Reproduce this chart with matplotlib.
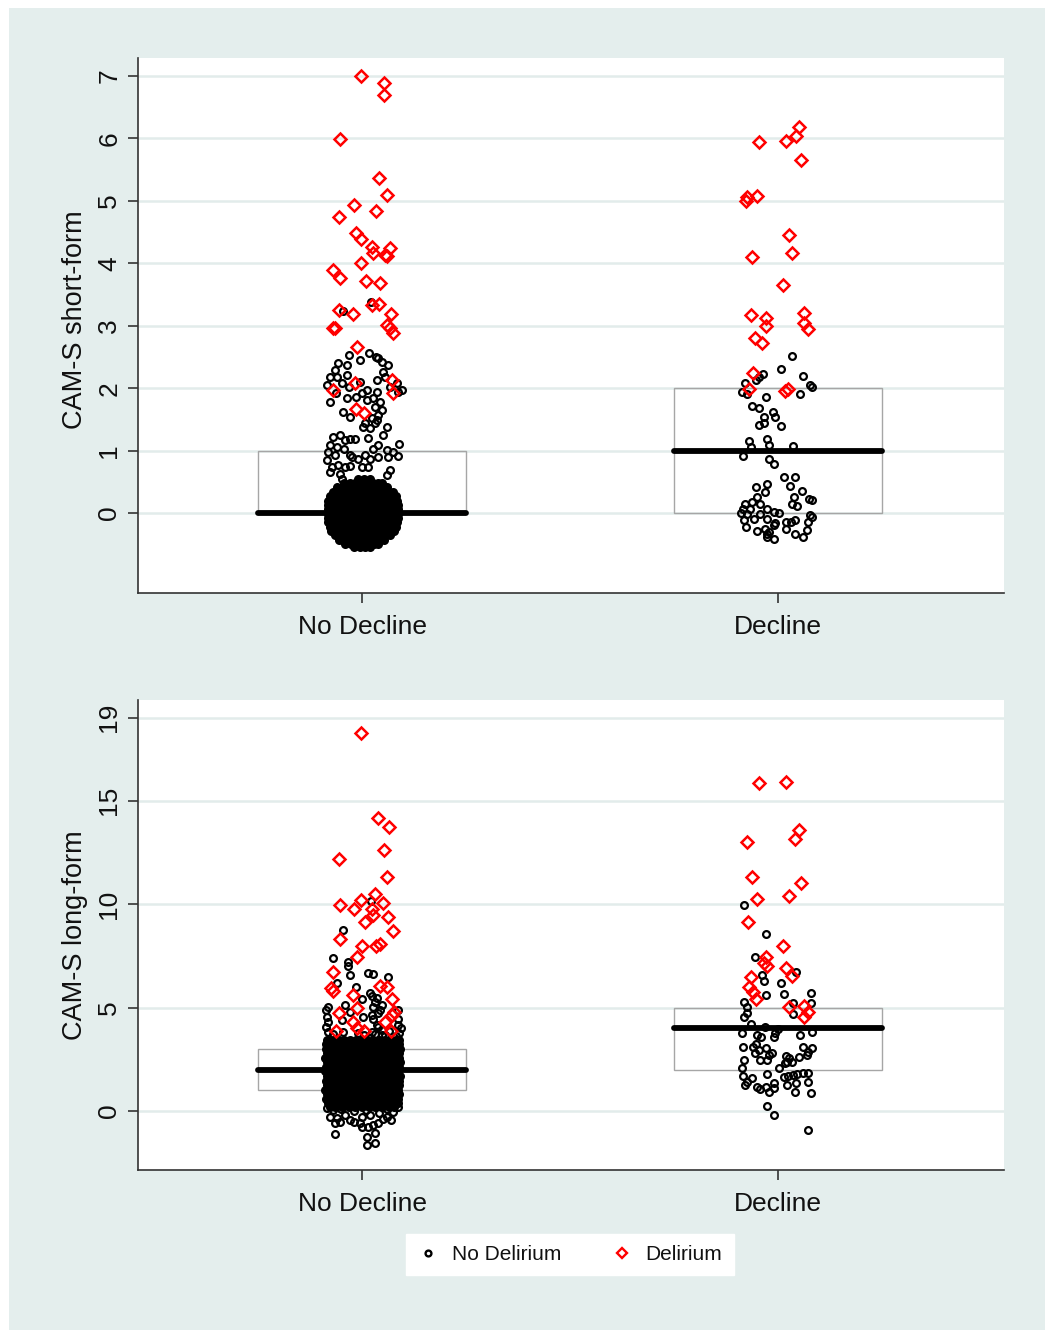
import matplotlib
matplotlib.use("Agg")
import matplotlib.pyplot as plt
from matplotlib.lines import Line2D
from matplotlib.patches import Rectangle

plt.rcParams['font.family'] = ['Liberation Sans', 'DejaVu Sans']

# ---------------- data ----------------
categories = ['No Decline', 'Decline']
cat_pos = [1, 2]

short_ticks = [0, 1, 2, 3, 4, 5, 6, 7]
long_ticks = [0, 5, 10, 15, 19]

# box statistics (q1, median, q3) per category
short_q1 = [0, 0]
short_med = [0, 1]
short_q3 = [1, 2]
long_q1 = [1, 2]
long_med = [2, 4]
long_q3 = [3, 5]

# ---- CAM-S short-form, No Decline ----
nd_short_del_dx = [-0.002, 0.052, 0.052, -0.053, 0.040, 0.061, -0.019, 0.033, -0.055, -0.014, -0.002, 0.023,
                   0.067, 0.027, 0.055, 0.061, -0.002, -0.069, -0.053, 0.009, 0.043, 0.025, 0.040, -0.055,
                   -0.021, 0.069, -0.069, -0.065, 0.059, 0.067, 0.075, -0.011, -0.070, -0.017, 0.071, 0.075,
                   -0.014, 0.005]
nd_short_del_y = [7.00, 6.88, 6.70, 5.99, 5.37, 5.10, 4.93, 4.83, 4.74, 4.49, 4.39, 4.26,
                  4.25, 4.16, 4.13, 4.11, 4.00, 3.90, 3.76, 3.72, 3.68, 3.33, 3.34, 3.25,
                  3.19, 3.19, 2.96, 2.97, 3.01, 2.96, 2.88, 2.66, 1.97, 2.09, 2.13, 1.92,
                  1.66, 1.61]

nd_short_nodel_dx = [-0.046, 0.021,
                     -0.031, 0.017, 0.034, 0.047, 0.039, -0.005, -0.057, -0.037, -0.065, -0.077, -0.059, -0.037,
                     -0.085, -0.049, -0.031, -0.005, 0.011, 0.035, 0.055, 0.067, 0.087, -0.062, -0.078, -0.037,
                     -0.014, -0.001, 0.035, 0.011, 0.027, 0.043, 0.031, 0.047, -0.046, -0.029, 0.023, 0.035,
                     0.007, 0.039, 0.059, 0.019, 0.003, 0.032, 0.063, 0.051, 0.083, 0.095,
                     -0.070, -0.053, -0.041, -0.029, -0.017, -0.077, -0.059, -0.043, -0.081, -0.065, -0.085,
                     -0.029, 0.015, 0.051, 0.089, 0.039, 0.027, 0.059, 0.075, 0.007, 0.019, -0.009, -0.025,
                     0.039, 0.086, 0.063, -0.057, -0.041, -0.073, -0.029, -0.001, 0.015, -0.053, -0.049,
                     0.067, 0.059, -0.077]
nd_short_nodel_y = [3.24, 3.38,
                    2.53, 2.56, 2.50, 2.42, 2.48, 2.45, 2.40, 2.37, 2.29, 2.18, 2.18, 2.21,
                    2.05, 2.08, 2.02, 2.10, 1.97, 2.13, 2.18, 2.02, 1.94, 1.92, 1.78, 1.84,
                    1.86, 1.92, 1.94, 1.81, 1.84, 1.78, 1.70, 1.65, 1.62, 1.54, 1.52, 1.49,
                    1.44, 1.57, 1.38, 1.36, 1.38, 1.44, 2.37, 2.26, 2.08, 1.97,
                    1.22, 1.25, 1.17, 1.18, 1.18, 1.09, 1.06, 1.03, 0.98, 0.93, 0.85,
                    0.93, 1.20, 1.25, 1.11, 1.09, 1.03, 1.01, 0.98, 0.93, 0.87, 0.87, 0.90,
                    0.90, 0.91, 0.90, 0.77, 0.74, 0.74, 0.75, 0.74, 0.73, 0.63, 0.55,
                    0.69, 0.61, 0.66]

# dense cluster at 0 (row value, jitter offsets in that row)
nd_short_blob_rows = [
    (0.54, [-0.010, 0.004, 0.018]),
    (0.48, [-0.044, -0.030, -0.016, -0.002, 0.012, 0.026, 0.038, 0.048]),
    (0.41, [-0.060, -0.047, -0.033, -0.019, -0.005, 0.009, 0.023, 0.037, 0.049, 0.060]),
    (0.34, [-0.071, -0.057, -0.043, -0.029, -0.015, -0.001, 0.013, 0.027, 0.041, 0.055, 0.066, 0.074]),
    (0.27, [-0.077, -0.064, -0.050, -0.036, -0.022, -0.008, 0.006, 0.020, 0.034, 0.048, 0.062, 0.073, 0.081]),
    (0.20, [-0.081, -0.071, -0.057, -0.043, -0.029, -0.015, -0.001, 0.013, 0.027, 0.041, 0.055, 0.069, 0.079, 0.085]),
    (0.13, [-0.082, -0.068, -0.054, -0.040, -0.026, -0.012, 0.002, 0.016, 0.030, 0.044, 0.058, 0.072, 0.082, 0.086]),
    (0.06, [-0.083, -0.071, -0.057, -0.043, -0.029, -0.015, -0.001, 0.013, 0.027, 0.041, 0.055, 0.069, 0.079, 0.087]),
    (-0.01, [-0.083, -0.068, -0.054, -0.040, -0.026, -0.012, 0.002, 0.016, 0.030, 0.044, 0.058, 0.072, 0.082, 0.087]),
    (-0.08, [-0.082, -0.071, -0.057, -0.043, -0.029, -0.015, -0.001, 0.013, 0.027, 0.041, 0.055, 0.069, 0.079, 0.086]),
    (-0.15, [-0.081, -0.068, -0.054, -0.040, -0.026, -0.012, 0.002, 0.016, 0.030, 0.044, 0.058, 0.072, 0.082, 0.085]),
    (-0.22, [-0.078, -0.064, -0.050, -0.036, -0.022, -0.008, 0.006, 0.020, 0.034, 0.048, 0.062, 0.072, 0.081]),
    (-0.29, [-0.074, -0.061, -0.047, -0.033, -0.019, -0.005, 0.009, 0.023, 0.037, 0.051, 0.063, 0.076]),
    (-0.36, [-0.066, -0.052, -0.038, -0.024, -0.010, 0.004, 0.018, 0.032, 0.046, 0.058, 0.068]),
    (-0.43, [-0.055, -0.041, -0.027, -0.013, 0.001, 0.015, 0.029, 0.041, 0.053]),
    (-0.50, [-0.040, -0.026, -0.012, 0.002, 0.016, 0.028, 0.038]),
    (-0.55, [-0.020, -0.006, 0.008, 0.018]),
]

# ---- CAM-S short-form, Decline ----
d_short_del_dx = [0.050, -0.047, 0.020, 0.043, 0.054, -0.074, -0.077, -0.050, 0.027, 0.033, -0.062, 0.012,
                  -0.064, -0.029, 0.062, -0.029, 0.062, 0.072, -0.056, -0.039, -0.061, -0.069, 0.016, 0.025]
d_short_del_y = [6.19, 5.94, 5.96, 6.04, 5.66, 5.06, 5.00, 5.07, 4.45, 4.17, 4.10, 3.66,
                 3.17, 3.13, 3.21, 2.99, 3.04, 2.94, 2.81, 2.73, 2.25, 1.98, 1.96, 1.99]

d_short_nodel_dx = [0.033, 0.007, 0.059, -0.037, -0.045, -0.053, -0.079, -0.087, -0.074, 0.077, 0.081, 0.053,
                    -0.029, -0.063, -0.047, -0.013, -0.007, -0.035, -0.045, -0.034, 0.006, -0.071, -0.027,
                    -0.066, -0.021, 0.035, -0.085, -0.023, -0.010, 0.014, 0.041, 0.029, -0.027, -0.053,
                    -0.031, 0.058, 0.038, 0.075, 0.081, -0.050, -0.063, -0.079, -0.043, 0.033, 0.045,
                    -0.085, -0.067, -0.026, -0.011, 0.003, -0.088, -0.074, -0.043, -0.058, -0.083, -0.027,
                    0.077, 0.081, 0.073, 0.019, 0.030, 0.041, -0.007, -0.011, -0.077, -0.051, -0.031,
                    -0.023, -0.026, -0.010, 0.020, 0.069, 0.041, 0.059, -0.027]
d_short_nodel_y = [2.52, 2.30, 2.20, 2.23, 2.18, 2.13, 2.09, 1.94, 1.91, 2.05, 2.02, 1.91,
                   1.86, 1.71, 1.69, 1.62, 1.54, 1.53, 1.41, 1.44, 1.39, 1.15, 1.18,
                   1.06, 1.09, 1.07, 0.92, 0.86, 0.79, 0.57, 0.58, 0.43, 0.46, 0.41,
                   0.34, 0.36, 0.25, 0.22, 0.21, 0.25, 0.18, 0.15, 0.15, 0.15, 0.12,
                   0.07, 0.07, 0.07, 0.02, 0.00, 0.00, -0.02, -0.02, -0.09, -0.11, -0.09,
                   -0.03, -0.06, -0.14, -0.14, -0.14, -0.11, -0.16, -0.19, -0.23, -0.28, -0.25,
                   -0.30, -0.38, -0.41, -0.25, -0.27, -0.34, -0.38, -0.33]

# ---- CAM-S long-form, No Decline ----
nd_long_del_dx = [-0.002, 0.039, 0.066, 0.053, -0.055, 0.061, 0.032, -0.002, -0.053, 0.051, -0.019, 0.023,
                  0.027, 0.008, 0.063, 0.075, -0.053, 0.000, 0.034, 0.043, -0.013, -0.069,
                  -0.075, -0.071, -0.022, -0.011, -0.055, -0.021, -0.013, 0.005, -0.063, 0.042, 0.061,
                  0.071, 0.077, 0.071, 0.055, 0.070]
nd_long_del_y = [18.25, 14.14, 13.74, 12.61, 12.20, 11.32, 10.49, 10.19, 9.95, 10.06, 9.75, 9.75,
                 9.46, 9.15, 9.39, 8.69, 8.30, 7.97, 7.97, 8.06, 7.42, 6.70,
                 5.92, 5.81, 5.60, 4.96, 4.72, 4.31, 4.00, 3.89, 3.89, 6.03, 5.97,
                 5.40, 4.80, 4.64, 4.31, 3.89]

nd_long_nodel_dx = [0.021, -0.046, -0.071, -0.033, -0.033, 0.015, 0.026, 0.063, -0.029,
                    -0.059, -0.015, -0.082, -0.041, 0.000, 0.023, 0.035, 0.027, 0.047, 0.087, -0.081,
                    0.087, -0.049, -0.029, 0.003, 0.023, 0.039, 0.035, 0.047, 0.019, -0.087, -0.085,
                    -0.087, -0.083, 0.087, 0.093, 0.090, 0.019, 0.031, 0.043, 0.027, 0.039, 0.023, 0.047,
                    -0.085, -0.077, -0.065, -0.053, -0.029, -0.005, 0.015, 0.027, 0.039, 0.059, 0.075,
                    0.087, -0.065, 0.011, 0.031, 0.011, 0.031, -0.001,
                    -0.070, -0.050, -0.020, 0.010, 0.040, 0.060, -0.040, 0.000, 0.050, -0.060, 0.020,
                    -0.020, 0.070, -0.070, -0.010, 0.055, 0.082, -0.045, 0.005, 0.030, 0.065]
nd_long_nodel_y = [10.15, 8.75, 7.38, 7.21, 7.02, 6.69, 6.62, 6.49, 6.57,
                   6.20, 5.97, 5.04, 5.12, 5.40, 5.56, 5.45, 5.04, 5.12, 4.88, 4.31,
                   4.16, 4.39, 4.80, 4.56, 4.64, 4.72, 4.16, 3.67, 3.51, 4.88, 4.56,
                   4.08, 3.83, 4.47, 4.00, 3.75, 5.68, 5.29, 4.88, 4.47, 4.08, 3.83, 3.92,
                   0.13, -0.27, -0.60, -0.52, -0.44, -0.60, -0.76, -0.68, -0.60, -0.27, -0.03,
                   0.21, -1.11, -1.24, -1.08, -1.64, -1.56, -0.76,
                   0.05, 0.10, 0.00, 0.05, -0.10, 0.10, -0.20, -0.30, -0.40, -0.35, -0.20,
                   -0.55, -0.45, 3.70, 3.75, 3.66, 3.62, 3.80, 3.68, 3.72, 3.85]

nd_long_blob_rows = [
    (3.45, [-0.084, -0.070, -0.055, -0.043, -0.030, -0.015, -0.002, 0.013, 0.026, 0.041, 0.054, 0.069, 0.081, 0.088]),
    (3.23, [-0.086, -0.077, -0.064, -0.050, -0.036, -0.022, -0.008, 0.006, 0.020, 0.034, 0.048, 0.062, 0.076, 0.089]),
    (3.01, [-0.087, -0.071, -0.057, -0.043, -0.029, -0.015, -0.001, 0.013, 0.027, 0.041, 0.055, 0.069, 0.083, 0.091]),
    (2.79, [-0.085, -0.078, -0.064, -0.050, -0.036, -0.022, -0.008, 0.006, 0.020, 0.034, 0.048, 0.062, 0.076, 0.088]),
    (2.57, [-0.088, -0.071, -0.057, -0.043, -0.029, -0.015, -0.001, 0.013, 0.027, 0.041, 0.055, 0.069, 0.083, 0.090]),
    (2.35, [-0.084, -0.078, -0.064, -0.050, -0.036, -0.022, -0.008, 0.006, 0.020, 0.034, 0.048, 0.062, 0.076, 0.092]),
    (2.13, [-0.086, -0.071, -0.057, -0.043, -0.029, -0.015, -0.001, 0.013, 0.027, 0.041, 0.055, 0.069, 0.083, 0.089]),
    (1.91, [-0.089, -0.078, -0.064, -0.050, -0.036, -0.022, -0.008, 0.006, 0.020, 0.034, 0.048, 0.062, 0.076, 0.087]),
    (1.69, [-0.085, -0.071, -0.057, -0.043, -0.029, -0.015, -0.001, 0.013, 0.027, 0.041, 0.055, 0.069, 0.083, 0.091]),
    (1.47, [-0.087, -0.078, -0.064, -0.050, -0.036, -0.022, -0.008, 0.006, 0.020, 0.034, 0.048, 0.062, 0.076, 0.088]),
    (1.25, [-0.084, -0.071, -0.057, -0.043, -0.029, -0.015, -0.001, 0.013, 0.027, 0.041, 0.055, 0.069, 0.083, 0.090]),
    (1.03, [-0.088, -0.078, -0.064, -0.050, -0.036, -0.022, -0.008, 0.006, 0.020, 0.034, 0.048, 0.062, 0.076, 0.086]),
    (0.81, [-0.085, -0.071, -0.057, -0.043, -0.029, -0.015, -0.001, 0.013, 0.027, 0.041, 0.055, 0.069, 0.083, 0.089]),
    (0.59, [-0.086, -0.078, -0.064, -0.050, -0.036, -0.022, -0.008, 0.006, 0.020, 0.034, 0.048, 0.062, 0.076, 0.087]),
    (0.37, [-0.083, -0.071, -0.057, -0.043, -0.029, -0.015, -0.001, 0.013, 0.027, 0.041, 0.055, 0.069, 0.081, 0.086]),
    (0.17, [-0.078, -0.064, -0.048, -0.032, -0.016, 0.000, 0.016, 0.032, 0.048, 0.064, 0.078]),
]

# ---- CAM-S long-form, Decline ----
d_long_del_dx = [-0.047, 0.020, 0.051, 0.041, -0.074, -0.063, 0.054, -0.050, 0.027, -0.072, 0.013, -0.029,
                 -0.035, -0.027, 0.019, 0.033, -0.066, -0.069, -0.061, -0.053, 0.027, 0.062, 0.073, 0.062]
d_long_del_y = [15.87, 15.90, 13.57, 13.13, 12.98, 11.32, 11.00, 10.23, 10.39, 9.11, 7.98, 7.46,
                7.16, 7.00, 6.89, 6.52, 6.49, 6.00, 5.76, 5.40, 5.04, 5.07, 4.80, 4.52]

d_long_nodel_dx = [-0.083, -0.029, -0.055, -0.039, -0.034, 0.043, 0.006, -0.029, 0.014, 0.078, 0.078, 0.035,
                   -0.082, -0.074, -0.074, -0.083, 0.037, -0.066, -0.031, -0.087, -0.051, -0.011, -0.007,
                   0.053, 0.081, -0.042, -0.085, -0.061, -0.053, -0.047, -0.055, -0.029, -0.023, -0.015,
                   -0.027, -0.043, 0.019, 0.027, 0.033, 0.017, 0.021, 0.051, 0.069, 0.073, 0.081, 0.059,
                   -0.082, -0.087, -0.085, -0.074, -0.079, -0.063, -0.050, -0.043, -0.029, -0.023, -0.010,
                   -0.011, -0.026, 0.003, 0.014, 0.025, 0.035, 0.045, 0.059, 0.073, 0.022, 0.043, 0.041,
                   0.073, 0.079, -0.027, -0.010, 0.073, 0.000]
d_long_nodel_y = [9.97, 8.55, 7.43, 6.57, 6.30, 6.73, 6.20, 5.60, 5.65, 5.68, 5.20, 5.23,
                  5.28, 5.04, 4.72, 4.56, 4.67, 4.20, 4.08, 3.78, 3.67, 3.56, 3.75,
                  3.67, 3.83, 3.56, 3.10, 3.10, 3.23, 2.95, 2.79, 3.03, 2.71, 2.82,
                  2.46, 2.46, 2.66, 2.55, 2.38, 2.30, 2.38, 2.60, 2.71, 2.87, 3.03, 3.07,
                  2.46, 2.06, 1.69, 1.42, 1.26, 1.58, 1.18, 1.04, 1.18, 0.93, 1.37,
                  1.10, 1.78, 2.06, 1.66, 1.69, 1.74, 1.78, 1.86, 1.86, 1.26, 1.34, 0.93,
                  1.42, 0.85, 0.24, -0.19, -0.91, 3.95]

# ---------------- styling ----------------
BG = '#E4EEED'
GRID = '#E2ECEB'
SPINE = '#333333'
CIRC = dict(ls='none', marker='o', ms=4.9, mfc='none', mec='black', mew=1.6)
DIAM = dict(ls='none', marker='D', ms=5.7, mfc='none', mec='#FF0000', mew=1.8)
BLOB = dict(ls='none', marker='o', ms=4.9, mfc='black', mec='black', mew=1.6)

W, H = 1045, 1330
fig = plt.figure(figsize=(W / 100, H / 100), dpi=100)
fig.patch.set_facecolor('white')
fig.patches.append(Rectangle((9 / W, 0), 1 - 9 / W, 1 - 8 / H, transform=fig.transFigure,
                             facecolor=BG, edgecolor='none', zorder=-10))

ax1 = fig.add_axes([138 / W, 1 - 593 / H, (1004 - 138) / W, (593 - 58) / H])
ax2 = fig.add_axes([138 / W, 1 - 1170 / H, (1004 - 138) / W, (1170 - 700) / H])


def flatten(rows):
    xs, ys = [], []
    for yv, dxs in rows:
        for d in dxs:
            xs.append(d)
            ys.append(yv)
    return xs, ys


def style(ax, yticks, ylim, ylabel, ylab_y):
    ax.set_facecolor('white')
    ax.set_xlim(0.4615, 2.543)
    ax.set_ylim(*ylim)
    ax.set_yticks(yticks)
    ax.set_yticklabels([str(t) for t in yticks])
    ax.set_xticks(cat_pos)
    ax.set_xticklabels(categories)
    for s in ['top', 'right']:
        ax.spines[s].set_visible(False)
    for s in ['left', 'bottom']:
        ax.spines[s].set_color(SPINE)
        ax.spines[s].set_linewidth(1.2)
    ax.tick_params(axis='both', colors=SPINE, length=7, width=1.2, labelcolor='#111111')
    ax.tick_params(axis='y', labelsize=19, pad=5)
    ax.tick_params(axis='x', labelsize=19, pad=9)
    for lab in ax.get_yticklabels():
        lab.set_rotation(90)
        lab.set_va('center')
    ax.yaxis.grid(True, color=GRID, lw=1.8)
    ax.set_axisbelow(True)
    ax.set_ylabel(ylabel, fontsize=19.5, color='#111111')
    ax.yaxis.set_label_coords(-0.058, ylab_y)


def boxes(ax, q1, med, q3):
    for p, a, m, b in zip(cat_pos, q1, med, q3):
        ax.add_patch(Rectangle((p - 0.249, a), 0.498, b - a, fill=False,
                               edgecolor='#A6A6A6', lw=1.0, zorder=1))
        ax.plot([p - 0.25, p + 0.25], [m, m], color='black', lw=4.2,
                solid_capstyle='round', zorder=2)


def pts(ax, pos, dx, y, kw, z):
    ax.plot([pos + d for d in dx], y, zorder=z, **kw)


style(ax1, short_ticks, (-1.281, 7.288), 'CAM-S short-form', 0.51)
boxes(ax1, short_q1, short_med, short_q3)
bx, by = flatten(nd_short_blob_rows)
pts(ax1, 1, bx, by, BLOB, 3)
pts(ax1, 1, nd_short_nodel_dx, nd_short_nodel_y, CIRC, 3)
pts(ax1, 1, nd_short_del_dx, nd_short_del_y, DIAM, 4)
pts(ax1, 2, d_short_nodel_dx, d_short_nodel_y, CIRC, 3)
pts(ax1, 2, d_short_del_dx, d_short_del_y, DIAM, 4)

style(ax2, long_ticks, (-2.85, 19.86), 'CAM-S long-form', 0.5)
boxes(ax2, long_q1, long_med, long_q3)
bx, by = flatten(nd_long_blob_rows)
pts(ax2, 1, bx, by, BLOB, 3)
pts(ax2, 1, nd_long_nodel_dx, nd_long_nodel_y, CIRC, 3)
pts(ax2, 1, nd_long_del_dx, nd_long_del_y, DIAM, 4)
pts(ax2, 2, d_long_nodel_dx, d_long_nodel_y, CIRC, 3)
pts(ax2, 2, d_long_del_dx, d_long_del_y, DIAM, 4)

handles = [Line2D([], [], ls='none', marker='o', ms=4.2, mfc='none', mec='black', mew=1.7),
           Line2D([], [], ls='none', marker='D', ms=5.4, mfc='none', mec='#FF0000', mew=1.7)]
leg = fig.legend(handles, ['No Delirium', 'Delirium'], loc='center',
                 bbox_to_anchor=(570 / W, 1 - 1254.5 / H), ncol=2, fontsize=15,
                 frameon=True, fancybox=False, facecolor='white', edgecolor='white',
                 framealpha=1, columnspacing=2.4, handletextpad=0.65, handlelength=1.0,
                 borderpad=0.55, borderaxespad=0)
for t in leg.get_texts():
    t.set_color('#111111')

fig.savefig('out.png', dpi=100, facecolor='white')
